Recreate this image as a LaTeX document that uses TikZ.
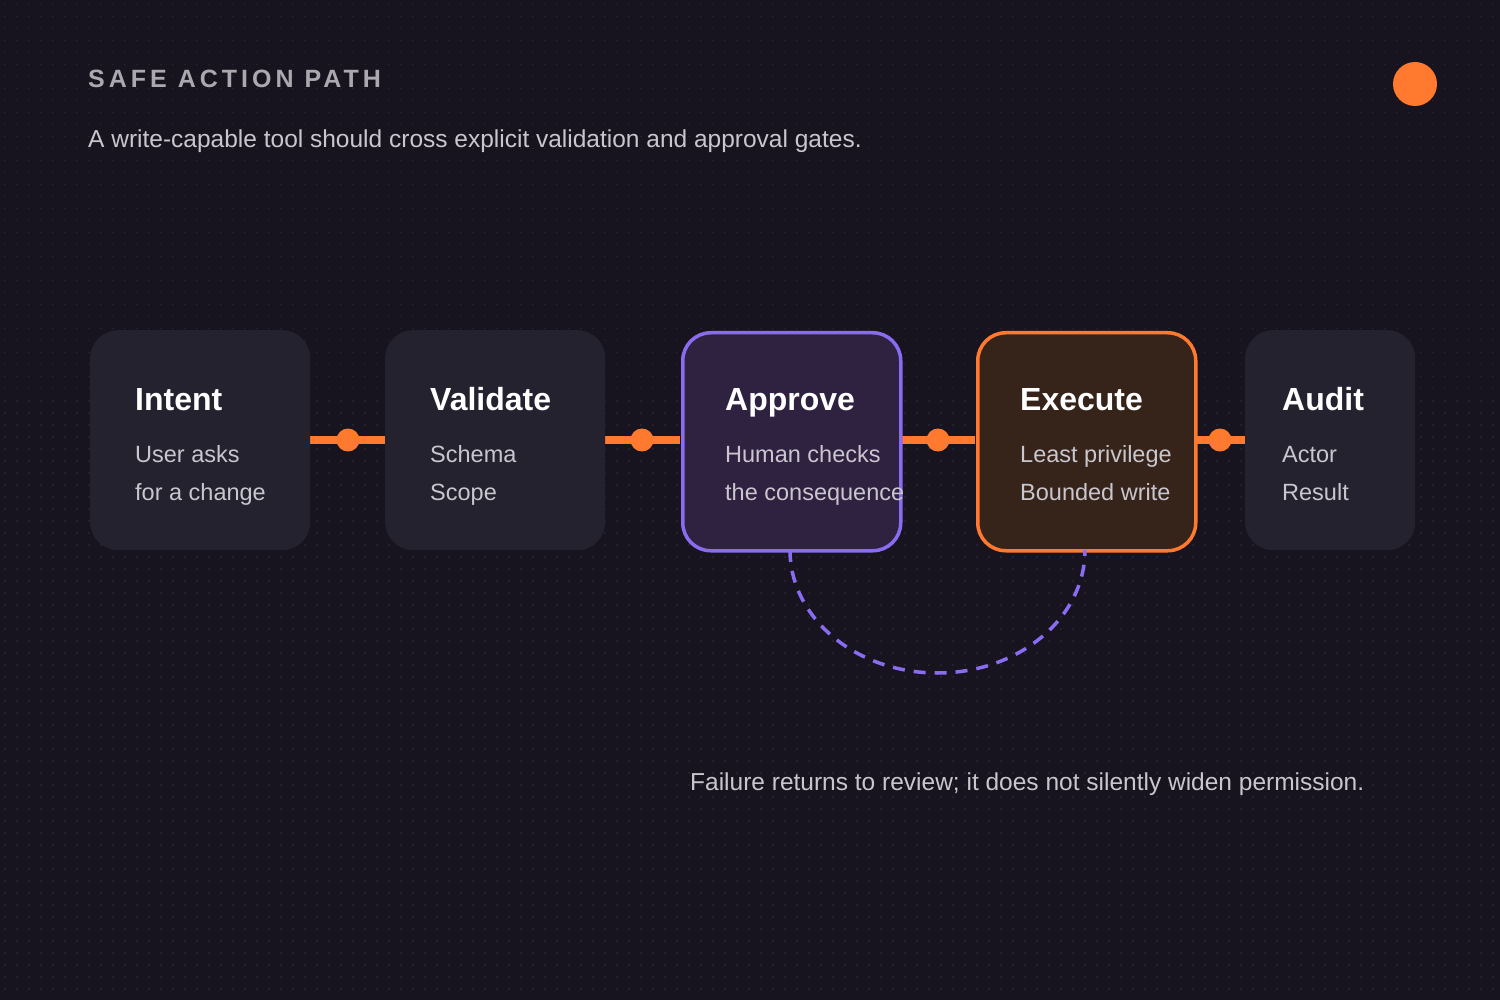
\documentclass[tikz,border=0pt]{standalone}
\usepackage{fontspec}
\setmainfont{Liberation Sans}
\begin{document}
\begin{tikzpicture}[x=1pt,y=-1pt,
  box/.style={draw=none,fill=boxc,rounded corners=28pt,minimum width=220pt,minimum height=220pt,anchor=north west},
  ttl/.style={anchor=base west,text=white,font=\bfseries\fontsize{32}{36}\selectfont,inner sep=0pt},
  sub/.style={anchor=base west,text=subc,font=\fontsize{23.5}{28}\selectfont,inner sep=0pt},
  conn/.style={draw=orng,line width=8pt},
  dot/.style={circle,fill=orng,minimum size=23pt,inner sep=0pt}]
\definecolor{bg}{HTML}{17141F}
\definecolor{boxc}{HTML}{23222E}
\definecolor{orng}{HTML}{FF7A2F}
\definecolor{purp}{HTML}{8A6CF2}
\definecolor{subc}{HTML}{C9C6CE}
\definecolor{pfill}{HTML}{2F2140}
\definecolor{efill}{HTML}{36241A}
\definecolor{gdot}{HTML}{24212C}
\fill[bg] (0,0) rectangle (1500,1000);
\useasboundingbox (0,0) rectangle (1500,1000);
\foreach \j in {0,...,83}{\foreach \i in {0,...,124}{\fill[gdot] (\i*12+4,\j*12+4) rectangle ++(1.5,1.5);}}
\node[anchor=base west,inner sep=0pt,text=subc!85!black,font=\bfseries\fontsize{25}{30}\selectfont] (t) at (88,88) {\addfontfeatures{LetterSpace=16}SAFE ACTION PATH};
\node[anchor=base west,inner sep=0pt,text=subc,font=\fontsize{24.5}{28}\selectfont] (s) at (88,148) {A write-capable tool should cross explicit validation and approval gates.};
\node[circle,fill=orng,minimum size=44pt,inner sep=0pt] (o) at (1415,84) {};
\coordinate (c1a) at (310,440); \coordinate (c1b) at (385,440);
\coordinate (c2a) at (605,440); \coordinate (c2b) at (680,440);
\coordinate (c3a) at (900,440); \coordinate (c3b) at (975,440);
\coordinate (c4a) at (1195,440); \coordinate (c4b) at (1245,440);
\draw[conn] (c1a)--(c1b); \draw[conn] (c2a)--(c2b); \draw[conn] (c3a)--(c3b); \draw[conn] (c4a)--(c4b);
\node[dot] (d1) at (348,440) {};
\node[dot] (d2) at (642,440) {};
\node[dot] (d3) at (938,440) {};
\node[dot] (d4) at (1220,440) {};
\node[box] (b1) at (90,330) {};
\node[box] (b2) at (385,330) {};
\node[box,fill=pfill,draw=purp,line width=3.5pt,minimum width=218pt,minimum height=218pt] (b3) at (681,331) {};
\node[box,fill=efill,draw=orng,line width=3.5pt,minimum width=218pt,minimum height=218pt] (b4) at (976,331) {};
\node[box,minimum width=170pt] (b5) at (1245,330) {};
\node[ttl] at (135,410) {Intent};
\node[sub] at (135,462) {User asks};
\node[sub] at (135,500) {for a change};
\node[ttl] at (430,410) {Validate};
\node[sub] at (430,462) {Schema};
\node[sub] at (430,500) {Scope};
\node[ttl] at (725,410) {Approve};
\node[sub] at (725,462) {Human checks};
\node[sub] at (725,500) {the consequence};
\node[ttl] at (1020,410) {Execute};
\node[sub] at (1020,462) {Least privilege};
\node[sub] at (1020,500) {Bounded write};
\node[ttl] at (1282,410) {Audit};
\node[sub] at (1282,462) {Actor};
\node[sub] at (1282,500) {Result};
\coordinate (a1) at (790,550); \coordinate (a2) at (1085,550);
\draw[purp,line width=3.5pt,dash pattern=on 12pt off 9pt] (a1) arc[start angle=180,end angle=0,x radius=147.5,y radius=123];
\node[anchor=base west,inner sep=0pt,text=subc,font=\fontsize{24.5}{28}\selectfont] (f) at (690,790) {Failure returns to review; it does not silently widen permission.};
\end{tikzpicture}
\end{document}
